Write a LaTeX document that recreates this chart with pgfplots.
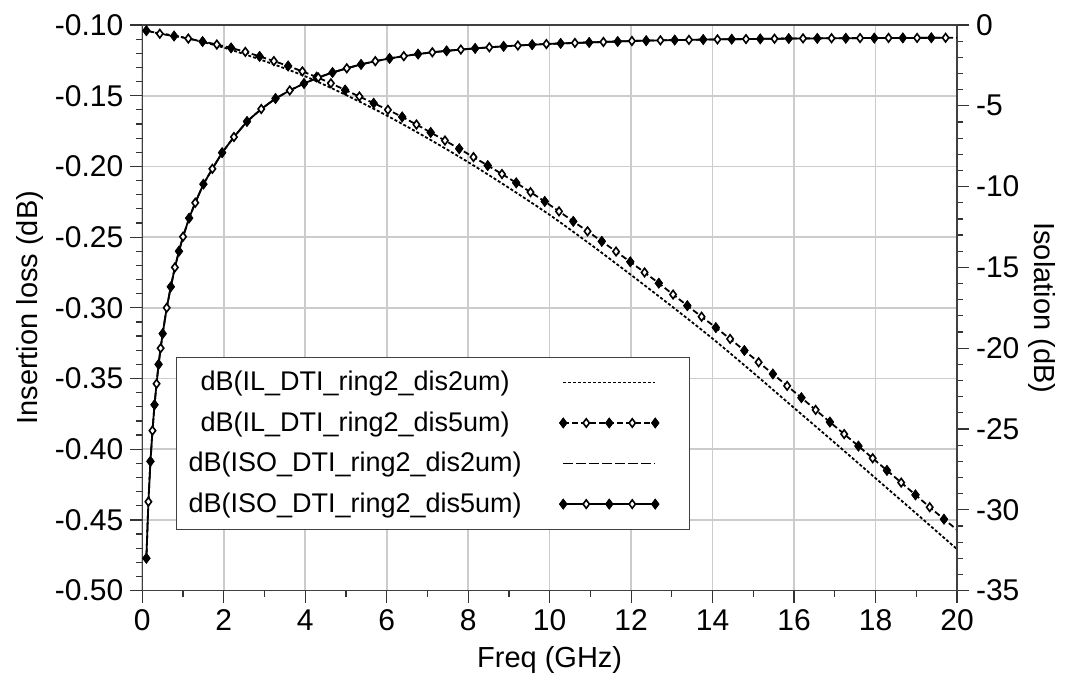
\documentclass[border=0pt]{standalone}
\usepackage{fontspec}
\setmainfont{Liberation Sans}
\usepackage{pgfplots}
\usepackage{pgfplotstable}
\pgfplotsset{compat=1.18}

\pgfplotstableread{
x y
0.1 -0.1043
1 -0.1087
2 -0.1160
3 -0.1255
4 -0.1363
5 -0.1495
6 -0.1640
7 -0.1800
8 -0.1970
9 -0.2152
10 -0.2343
11 -0.2551
12 -0.2768
13 -0.2990
14 -0.3218
15 -0.3460
16 -0.3708
17 -0.3955
18 -0.4205
19 -0.4455
20 -0.4707
}\ILtwo

\pgfplotstableread{
x y
0.1 -0.1040
0.43 -0.1062
0.78 -0.1078
1.13 -0.1096
1.48 -0.1117
1.83 -0.1138
2.18 -0.1162
2.53 -0.1190
2.88 -0.1222
3.23 -0.1255
3.58 -0.1290
3.93 -0.1328
4.28 -0.1368
4.63 -0.1412
4.98 -0.1460
5.33 -0.1506
5.68 -0.1553
6.03 -0.1600
6.38 -0.1650
6.73 -0.1704
7.08 -0.1760
7.43 -0.1817
7.78 -0.1875
8.13 -0.1934
8.48 -0.1994
8.83 -0.2054
9.18 -0.2116
9.53 -0.2182
9.88 -0.2248
10.23 -0.2318
10.58 -0.2389
10.93 -0.2459
11.28 -0.2530
11.63 -0.2602
11.98 -0.2675
12.33 -0.2750
12.68 -0.2826
13.03 -0.2906
13.38 -0.2985
13.73 -0.3063
14.08 -0.3140
14.43 -0.3220
14.78 -0.3302
15.13 -0.3385
15.48 -0.3468
15.83 -0.3552
16.18 -0.3636
16.53 -0.3722
16.88 -0.3808
17.23 -0.3893
17.58 -0.3978
17.93 -0.4064
18.28 -0.4150
18.63 -0.4236
18.98 -0.4323
19.33 -0.4410
19.68 -0.4495
20.0 -0.4570
}\ILfive

\pgfplotstableread{
x y
0.1 -33.0
0.15 -29.5
0.2 -27.0
0.25 -25.1
0.3 -23.5
0.35 -22.2
0.4 -21.0
0.45 -20.0
0.5 -19.1
0.6 -17.5
0.7 -16.2
0.8 -15.0
0.9 -14.0
1.0 -13.1
1.15 -11.95
1.3 -11.0
1.5 -9.85
1.72 -8.9
1.96 -7.9
2.25 -6.93
2.57 -5.97
2.92 -5.2
3.27 -4.55
3.62 -4.05
3.97 -3.62
4.32 -3.25
4.67 -2.94
5.02 -2.68
5.37 -2.44
5.72 -2.24
6.07 -2.07
6.42 -1.93
6.77 -1.80
7.12 -1.69
7.47 -1.60
7.82 -1.52
8.17 -1.45
8.52 -1.38
8.87 -1.32
9.22 -1.27
9.57 -1.22
9.92 -1.18
10.27 -1.14
10.62 -1.11
10.97 -1.08
11.32 -1.05
11.67 -1.02
12.02 -0.99
12.37 -0.97
12.72 -0.95
13.07 -0.93
13.42 -0.92
13.77 -0.90
14.12 -0.89
14.47 -0.88
14.82 -0.87
15.17 -0.86
15.52 -0.85
15.87 -0.84
16.22 -0.83
16.57 -0.83
16.92 -0.82
17.27 -0.82
17.62 -0.81
17.97 -0.81
18.32 -0.80
18.67 -0.80
19.02 -0.80
19.37 -0.79
19.72 -0.79
}\ISOfive

\pgfplotstableread{
x y
0.1 -33.0
0.15 -29.5
0.2 -27.0
0.25 -25.1
0.3 -23.5
0.35 -22.2
0.4 -21.0
0.45 -20.0
0.5 -19.1
0.6 -17.5
0.7 -16.2
0.8 -15.0
0.9 -14.0
1.0 -13.1
1.15 -11.95
1.3 -11.0
1.5 -9.85
1.72 -8.9
1.96 -7.9
2.25 -6.93
2.57 -5.97
2.92 -5.2
3.27 -4.55
3.62 -4.05
3.97 -3.62
4.32 -3.25
4.67 -2.94
5.02 -2.68
5.37 -2.44
5.72 -2.24
6.07 -2.07
6.42 -1.93
6.77 -1.80
7.12 -1.69
7.47 -1.60
7.82 -1.52
8.17 -1.45
8.52 -1.38
8.87 -1.32
9.22 -1.27
9.57 -1.22
9.92 -1.18
10.27 -1.14
10.62 -1.11
10.97 -1.08
11.32 -1.05
11.67 -1.02
12.02 -0.99
12.72 -0.95
13.42 -0.92
14.12 -0.89
14.82 -0.87
15.52 -0.85
16.22 -0.83
16.92 -0.82
17.62 -0.81
18.32 -0.80
19.02 -0.80
19.72 -0.79
20.0 -0.79
}\ISOtwo

\pgfplotsset{
  il2line/.style={black, line width=0.9pt, dash pattern=on 1.5pt off 1pt},
  il5line/.style={black, line width=0.9pt, dash pattern=on 3pt off 1.5pt},
  iso2line/.style={black, line width=0.9pt, dash pattern=on 5pt off 1.5pt},
  iso5line/.style={black, line width=0.9pt, solid},
  markstyle/.style={mark=diamond*, mark size=2.1pt, mark options={solid, fill=white, draw=black, line width=0.8pt}},
  linelegend/.style={legend image code/.code={\draw[##1] (0pt,0pt) -- (46pt,0pt); \path (53pt,0pt);}},
  marklegend/.style={legend image code/.code={%
      \draw[##1] plot coordinates {(0pt,0pt) (11.5pt,0pt) (23pt,0pt) (34.5pt,0pt) (46pt,0pt)};%
      \draw[##1, only marks, mark options={solid, fill=black, draw=black, line width=0.8pt}] plot coordinates {(0pt,0pt) (23pt,0pt) (46pt,0pt)};%
      \path (53pt,0pt);}},
  commonax/.style={
    at={(0pt,0pt)}, anchor=south west,
    scale only axis, width=407.35pt, height=282.8pt,
    xmin=0, xmax=20,
    tick align=outside,
    major tick length=6pt, minor tick length=3pt,
    tick style={black!80, line width=0.6pt},
    axis line style={black!75, line width=0.75pt},
    tick label style={font=\fontsize{15}{18}\selectfont},
  },
}

\begin{document}
\begin{tikzpicture}
\useasboundingbox (-71.15pt,-46.7pt) rectangle (463.85pt,295.3pt);
\begin{axis}[
  commonax,
  ymin=-0.5, ymax=-0.1,
  xtick={0,2,4,6,8,10,12,14,16,18,20},
  xticklabels={0,2,4,6,8,10,12,14,16,18,20},
  ytick={-0.50,-0.45,-0.40,-0.35,-0.30,-0.25,-0.20,-0.15,-0.10},
  yticklabels={-0.50,-0.45,-0.40,-0.35,-0.30,-0.25,-0.20,-0.15,-0.10},
  minor x tick num=1, minor y tick num=4,
  tick pos=left,
  grid=major, major grid style={gray!40, line width=0.8pt},
  xlabel={Freq (GHz)}, ylabel={Insertion loss (dB)},
  every axis x label/.style={at={(axis description cs:0.5,-0.1227)}, anchor=center, font=\fontsize{14.5}{17}\selectfont},
  every axis y label/.style={at={(axis description cs:-0.1378,0.5)}, anchor=center, rotate=90, font=\fontsize{14.5}{17}\selectfont},
]
\addplot[il2line, smooth, forget plot] table[x=x,y=y] {\ILtwo};
\addplot[il5line, forget plot] table[x=x,y=y] {\ILfive};
\addplot[only marks, markstyle, restrict x to domain=0:19.9, forget plot] table[x=x,y=y] {\ILfive};
\addplot[only marks, markstyle, mark options={solid, fill=black, draw=black, line width=0.8pt}, mark repeat=2, restrict x to domain=0:19.9, forget plot] table[x=x,y=y] {\ILfive};
\end{axis}
\begin{axis}[
  commonax,
  ymin=-35, ymax=0,
  axis x line=none, axis y line*=right,
  ytick={-35,-30,-25,-20,-15,-10,-5,0},
  yticklabels={-35,-30,-25,-20,-15,-10,-5,0},
  minor y tick num=4,
  ylabel={Isolation (dB)},
  every axis y label/.style={at={(axis description cs:1.1043,0.5)}, anchor=center, rotate=-90, font=\fontsize{14.5}{17}\selectfont},
  legend plot pos=right,
  legend cell align=center,
  legend style={at={(axis description cs:0.041,0.4135)}, anchor=north west,
    draw=black!75, font=\fontsize{13.5}{16}\selectfont,
    inner xsep=9.5pt, inner ysep=7pt, row sep=9pt, column sep=22.5pt,
    nodes={inner sep=0pt}},
]
\addlegendimage{il2line, linelegend}
\addlegendentry{\makebox[160pt]{dB(IL\_DTI\_ring2\_dis2um)}}
\addlegendimage{il5line, markstyle, marklegend}
\addlegendentry{\makebox[160pt]{dB(IL\_DTI\_ring2\_dis5um)}}
\addlegendimage{iso2line, linelegend}
\addlegendentry{\makebox[160pt]{dB(ISO\_DTI\_ring2\_dis2um)}}
\addlegendimage{iso5line, markstyle, marklegend}
\addlegendentry{\makebox[160pt]{dB(ISO\_DTI\_ring2\_dis5um)}}
\addplot[iso2line, forget plot] table[x=x,y=y] {\ISOtwo};
\addplot[iso5line, forget plot] table[x=x,y=y] {\ISOfive};
\addplot[only marks, markstyle, forget plot] table[x=x,y=y] {\ISOfive};
\addplot[only marks, markstyle, mark options={solid, fill=black, draw=black, line width=0.8pt}, mark repeat=2, forget plot] table[x=x,y=y] {\ISOfive};
\end{axis}
\end{tikzpicture}
\end{document}
